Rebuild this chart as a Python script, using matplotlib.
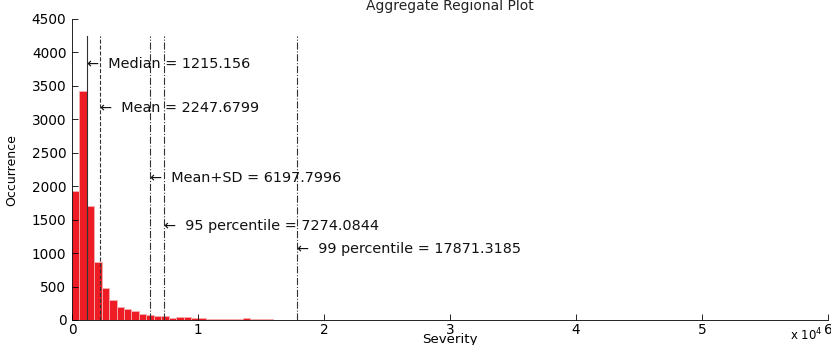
import numpy as np
import matplotlib.pyplot as plt

plt.rcParams['font.family'] = ['DejaVu Sans']

# histogram counts, bins of ~590 starting at 0
bin_width = 590
counts = [1930, 3430, 1710, 870, 480, 300, 200, 160, 130, 90, 80, 55, 60, 35,
          40, 40, 25, 25, 15, 20, 20, 12, 8, 25, 10, 10, 10, 5]

# statistics lines
stat_names = ['Median', 'Mean', 'Mean+SD', '95 percentile', '99 percentile']
stat_values = [1215.156, 2247.6799, 6197.7996, 7274.0844, 17871.3185]
stat_labels = ['1215.156', '2247.6799', '6197.7996', '7274.0844', '17871.3185']
label_heights = [3830, 3170, 2120, 1410, 1060]
line_styles = ['-', '--', '-.', '-.', '-.']

fig = plt.figure(figsize=(8.31, 3.45), dpi=100)
ax = fig.add_axes([0.0866, 0.0725, 0.910, 0.8725])

edges = np.arange(len(counts) + 1) * bin_width
ax.hist(edges[:-1], bins=edges, weights=counts, color='#ee1c24',
        edgecolor='#f4b0b0', linewidth=0.6)

for name, val, lab, h, ls in zip(stat_names, stat_values, stat_labels,
                                 label_heights, line_styles):
    ax.plot([val, val], [0, 4250], color='#333333', linestyle=ls, linewidth=0.8)
    ax.text(val, h, '\u2190  ' + name + ' = ' + lab, fontsize=10.4,
            va='center', ha='left', color='#111111')

ax.set_xlim(0, 60000)
ax.set_ylim(0, 4500)
ax.set_xticks(np.arange(0, 60001, 10000))
ax.set_xticklabels([str(i) for i in range(7)])
ax.set_yticks(np.arange(0, 4501, 500))
ax.tick_params(direction='in', length=4, labelsize=9.8, width=0.6)
ax.tick_params(axis='x', pad=2)
ax.tick_params(axis='y', pad=4)
for s in ['top', 'right']:
    ax.spines[s].set_visible(False)
for s in ['left', 'bottom']:
    ax.spines[s].set_linewidth(0.6)

fig.text(0.5415, 1 - 339.5 / 345, 'Severity', fontsize=9.6, ha='center', va='center')
fig.text(12 / 831, 1 - 170 / 345, 'Occurrence', fontsize=9,
         family=['Liberation Sans Narrow', 'DejaVu Sans Condensed', 'DejaVu Sans'],
         rotation=90, ha='center', va='center')
fig.text(0.951, 0.005, 'x 10$^4$', fontsize=8.5, ha='left', va='bottom')
fig.text(0.5415, 1 - 10 / 345, 'Aggregate Regional Plot', fontsize=10,
         ha='center', va='baseline', color='#222222')

fig.savefig('out.png', dpi=100)
